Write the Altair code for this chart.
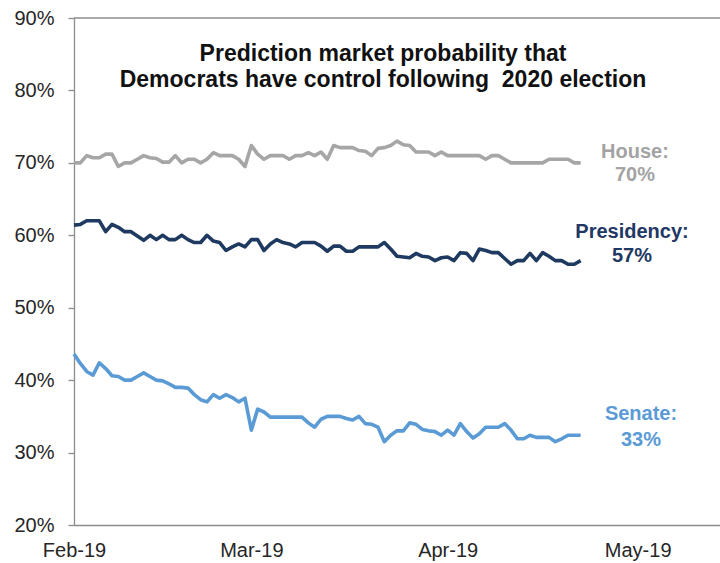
import altair as alt
import pandas as pd

start_date = "2019-02-01"
series_names = ["House", "Presidency", "Senate"]
series_colors = ["#a6a6a6", "#1f3a60", "#5b9bd5"]
label_colors = ["#a3a3a3", "#1f3864", "#5b9bd5"]
end_labels = ["House:", "Presidency:", "Senate:"]
end_values = ["70%", "57%", "33%"]
title_lines = ["Prediction market probability that",
               "Democrats have control following\u00a0 2020 election"]
tick_dates = ["2019-02-01", "2019-03-01", "2019-04-01", "2019-05-01"]
y_ticks = [0.2, 0.3, 0.4, 0.5, 0.6, 0.7, 0.8, 0.9]

house = [70.0, 70.0, 71.0, 70.7, 70.7, 71.2, 71.2, 69.5, 70.0, 70.0,
         70.5, 71.0, 70.7, 70.6, 70.1, 70.1, 71.0, 70.0, 70.5, 70.5,
         70.0, 70.5, 71.4, 71.0, 71.0, 71.0, 70.5, 69.5, 72.4, 71.2,
         70.5, 71.0, 71.0, 71.0, 70.5, 71.0, 71.0, 71.4, 71.0, 71.5,
         70.5, 72.4, 72.1, 72.1, 72.1, 71.7, 71.6, 71.0, 72.0, 72.1,
         72.4, 73.0, 72.5, 72.4, 71.5, 71.5, 71.5, 71.0, 71.5, 71.0,
         71.0, 71.0, 71.0, 71.0, 71.0, 70.5, 71.0, 71.0, 70.5, 70.0,
         70.0, 70.0, 70.0, 70.0, 70.0, 70.5, 70.5, 70.5, 70.5, 70.0,
         70.0]

presidency = [61.4, 61.5, 62.0, 62.0, 62.0, 60.5, 61.5, 61.1, 60.5, 60.5,
              59.9, 59.3, 60.0, 59.4, 60.0, 59.4, 59.4, 60.0, 59.4, 59.0,
              59.0, 60.0, 59.2, 59.0, 57.9, 58.4, 58.8, 58.4, 59.4, 59.4,
              57.9, 58.8, 59.4, 59.0, 58.8, 58.4, 59.0, 59.0, 59.0, 58.5,
              57.8, 58.5, 58.5, 57.8, 57.8, 58.4, 58.4, 58.4, 58.4, 59.0,
              58.1, 57.1, 57.0, 56.9, 57.5, 57.1, 57.0, 56.5, 56.9, 57.0,
              56.5, 57.6, 57.5, 56.5, 58.1, 57.9, 57.6, 57.6, 56.8, 56.0,
              56.5, 56.5, 57.5, 56.5, 57.6, 57.1, 56.5, 56.5, 56.0, 56.0,
              56.5]

senate = [43.6, 42.3, 41.2, 40.7, 42.4, 41.6, 40.6, 40.5, 40.0, 40.0,
          40.5, 41.0, 40.5, 40.0, 39.9, 39.5, 39.0, 39.0, 38.9, 38.0,
          37.3, 37.0, 38.0, 37.5, 38.0, 37.6, 37.0, 37.5, 33.1, 36.0,
          35.6, 34.9, 34.9, 34.9, 34.9, 34.9, 34.9, 34.1, 33.5, 34.6,
          35.0, 35.0, 35.0, 34.7, 34.5, 35.0, 34.0, 33.9, 33.5, 31.5,
          32.4, 33.0, 33.0, 34.1, 33.9, 33.2, 33.0, 32.9, 32.4, 33.1,
          32.4, 34.0, 32.9, 32.0, 32.6, 33.5, 33.5, 33.5, 34.0, 33.1,
          31.9, 31.9, 32.4, 32.1, 32.1, 32.1, 31.5, 31.9, 32.4, 32.4,
          32.4]

dates = [d.strftime("%Y-%m-%d") for d in pd.date_range(start_date, periods=len(house), freq="D")]
rows = []
for name, vals in zip(series_names, [house, presidency, senate]):
    for d, v in zip(dates, vals):
        rows.append({"date": d, "series": name, "value": v / 100.0})
df = pd.DataFrame(rows)
one = pd.DataFrame({"k": [0]})

FONT = "Liberation Sans"
AXIS_GRAY = "#8c8c8c"

def dt(s):
    y, m, d = [int(p) for p in s.split("-")]
    return alt.DateTime(year=y, month=m, date=d, utc=True)

x_enc = alt.X("date:T",
              scale=alt.Scale(type="utc", domain=[dt("2019-02-01"), dt("2019-05-14")]),
              axis=alt.Axis(values=[dt(s) for s in tick_dates], format="%b-%y",
                            title=None, ticks=False, grid=False, labelFlush=False,
                            labelPadding=15, labelFontSize=20, labelColor="#262626",
                            labelFont=FONT, domainColor=AXIS_GRAY, domainWidth=1.3))
y_enc = alt.Y("value:Q",
              scale=alt.Scale(domain=[0.2, 0.9], nice=False, zero=False),
              axis=alt.Axis(values=y_ticks, format=".0%", title=None, grid=False,
                            tickSize=6, tickColor=AXIS_GRAY, tickWidth=1.3,
                            labelPadding=14, labelFontSize=20, labelColor="#262626",
                            labelFont=FONT, domainColor=AXIS_GRAY, domainWidth=1.3))

lines = alt.Chart(df).mark_line(strokeWidth=3.6, strokeJoin="round").encode(
    x=x_enc, y=y_enc,
    color=alt.Color("series:N", scale=alt.Scale(domain=series_names, range=series_colors), legend=None),
    detail="series:N",
)

top_rule = alt.Chart(one).mark_rule(color=AXIS_GRAY, strokeWidth=1.3).encode(y=alt.value(0))

layers = [top_rule, lines]

title_pos = [(309, 36), (309, 62)]
for line, (px, py) in zip(title_lines, title_pos):
    layers.append(alt.Chart(one).mark_text(font=FONT, fontSize=23, fontWeight="bold",
                                           color="#111111", align="center", baseline="middle").encode(
        x=alt.value(px), y=alt.value(py), text=alt.value(line)))

label_pos = [((561, 134), (561, 157)), ((558, 214), (558, 238)), ((567, 396), (567, 422))]
for lab, val, col, (p1, p2) in zip(end_labels, end_values, label_colors, label_pos):
    for txt, (px, py) in [(lab, p1), (val, p2)]:
        layers.append(alt.Chart(one).mark_text(font=FONT, fontSize=20, fontWeight="bold",
                                               color=col, align="center", baseline="middle").encode(
            x=alt.value(px), y=alt.value(py), text=alt.value(txt)))

chart = alt.layer(*layers).properties(
    width=646, height=507,
    autosize=alt.AutoSizeParams(type="none"),
    padding={"left": 74, "top": 18, "right": 0, "bottom": 38},
    background="white",
).configure_view(stroke=None)

chart.save("out.html", embed_options={"renderer": "svg", "actions": False})
